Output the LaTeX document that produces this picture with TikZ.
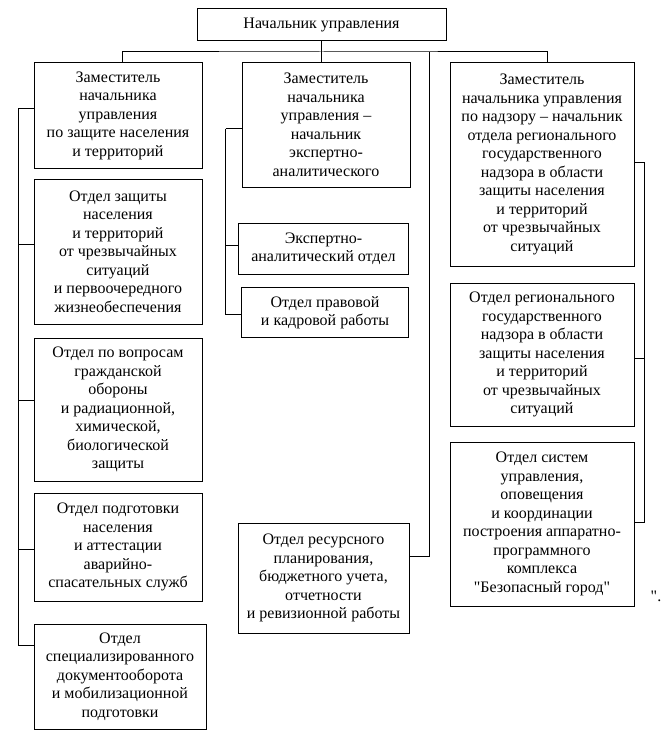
\documentclass[tikz,border=0pt]{standalone}
\usepackage{fontspec}
\setmainfont{Liberation Serif}
\usepackage{tikz}
\usetikzlibrary{positioning}
\tikzset{
box/.style={
  draw, rectangle,
  line width=1pt,
  align=center,
  inner sep=2pt,
  font=\fontsize{16}{18.5}\selectfont
},
lbox/.style={box, minimum width=168pt},
mbox/.style={box, minimum width=170pt},
rbox/.style={box, minimum width=184pt},
link/.style={draw, line width=1pt},
}

\begin{document}
\begin{tikzpicture}[x=1pt, y=-1pt]
                \useasboundingbox (0,0) rectangle (665,741);
                \node[box, minimum width=249pt, minimum height=32pt] (nach) at (321.5,25) {Начальник управления};
                \node[lbox, minimum height=105pt] (zl1) at (118,115.5) {Заместитель\\начальника\\управления\\по защите населения\\и территорий};
                \node[lbox, minimum height=145pt] (zl2) at (118,251.5) {Отдел защиты\\населения\\и территорий\\от чрезвычайных\\ситуаций\\и первоочередного\\жизнеобеспечения};
                \node[lbox, minimum height=143pt] (zl3) at (118,409.5) {Отдел по вопросам\\гражданской\\обороны\\и радиационной,\\химической,\\биологической\\защиты};
                \node[lbox, minimum height=108pt] (zl4) at (118,547) {Отдел подготовки\\населения\\и аттестации\\аварийно-\\спасательных служб};
                \node[lbox, minimum width=172pt, minimum height=105pt] (zl5) at (120,676.5) {Отдел\\специализированного\\документооборота\\и мобилизационной\\подготовки};
                \node[mbox, minimum width=168pt, minimum height=124pt] (zm1) at (326,125) {Заместитель\\начальника\\управления –\\начальник\\экспертно-\\аналитического};
                \node[mbox, minimum height=51pt] (zm2) at (323.5,248.5) {Экспертно-\\аналитический отдел};
                \node[mbox, minimum width=167pt, minimum height=50pt] (zm3) at (325,312.5) {Отдел правовой\\и кадровой работы};
                \node[mbox, minimum width=171pt, minimum height=110pt] (zm4) at (323.5,578) {Отдел ресурсного\\планирования,\\бюджетного учета,\\отчетности\\и ревизионной работы};
                \node[rbox, minimum height=203pt] (zr1) at (542,164.5) {Заместитель\\начальника управления\\по надзору – начальник\\отдела регионального\\государственного\\надзора в области\\защиты населения\\и территорий\\от чрезвычайных\\ситуаций};
                \node[rbox, minimum height=143pt] (zr2) at (542,354.5) {Отдел регионального\\государственного\\надзора в области\\защиты населения\\и территорий\\от чрезвычайных\\ситуаций};
                \node[rbox, minimum height=164pt] (zr3) at (542,524) {Отдел систем\\управления,\\оповещения\\и координации\\построения аппаратно-\\программного\\комплекса\\\textquotedbl Безопасный город\textquotedbl};
                \node[font=\fontsize{16}{18.5}\selectfont, inner sep=0pt] (kav) at (656,596) {\textquotedbl.};
                \coordinate (bus) at (321.5,52);
                \coordinate (bus2) at (429,52);
                \coordinate (ls) at (18,109);
                \coordinate (ms) at (225.5,129);
                \coordinate (rs) at (644,162);
                \draw[link] (nach) -- (bus);
                \draw[link] ([xshift=4pt]zl1.north) |- (bus) -| ([xshift=5pt]zr1.north);
                \draw[link] (bus) -- (bus |- zm1.north);
                \draw[link] (bus2) |- ([yshift=22pt]zm4.east);
                \foreach \n/\s in {zl1/6.5, zl2/7, zl3/9.5, zl4/-2, zl5/31.5}
                    \draw[link] (ls) |- ([yshift=\s pt]\n.west);
                \foreach \n/\s in {zm1/-4, zm2/3.5, zm3/-1.5}
                    \draw[link] (ms) |- ([yshift=\s pt]\n.west);
                \foreach \n/\s in {zr1/2.5, zr2/-3.5, zr3/2}
                    \draw[link] (rs) |- ([yshift=\s pt]\n.east);
\end{tikzpicture}
\end{document}
